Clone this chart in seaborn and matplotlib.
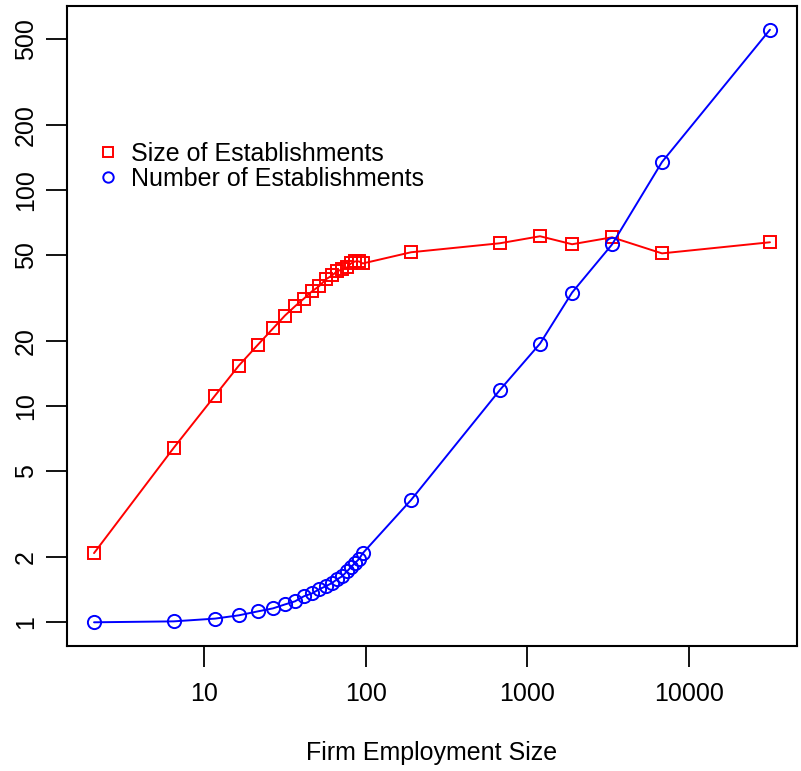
import numpy as np
import pandas as pd
import matplotlib
matplotlib.use("Agg")
import matplotlib.pyplot as plt
import seaborn as sns
from matplotlib.lines import Line2D
from matplotlib.ticker import FixedLocator, FixedFormatter, NullLocator

# ---- data ----
firm_size = [2.09, 6.5, 11.7, 16.4, 21.6, 26.7, 31.7, 36.5, 41.5, 46.5, 51.4,
             56.8, 61.9, 66.4, 71.3, 76.6, 81.0, 85.8, 90.8, 96.0,
             190.6, 676, 1197, 1889, 3337, 6793, 31600]
size_of_est = [2.09, 6.42, 11.2, 15.4, 19.3, 22.9, 26.3, 29.0, 31.5, 34.0, 35.9,
               38.7, 40.3, 42.1, 43.0, 43.9, 45.8, 46.8, 46.8, 45.8,
               51.6, 56.8, 61.2, 56.2, 60.5, 51.0, 57.4]
num_of_est = [1.00, 1.01, 1.04, 1.077, 1.124, 1.16, 1.21, 1.25, 1.32, 1.36, 1.42,
              1.47, 1.52, 1.58, 1.63, 1.72, 1.80, 1.88, 1.96, 2.09,
              3.68, 11.9, 19.5, 33.6, 56.1, 135, 553]
series_names = ["Size of Establishments", "Number of Establishments"]
x_ticks = [10, 100, 1000, 10000]
y_ticks = [1, 2, 5, 10, 20, 50, 100, 200, 500]
x_label = "Firm Employment Size"

df = pd.DataFrame({
    "x": firm_size * 2,
    "y": size_of_est + num_of_est,
    "series": [series_names[0]] * len(firm_size) + [series_names[1]] * len(firm_size),
})

sns.set_theme(style="white")
plt.rcParams["font.family"] = ["Liberation Sans", "DejaVu Sans"]
plt.rcParams["text.color"] = "black"

fig = plt.figure(figsize=(8.01, 7.71), dpi=100)
ax = fig.add_axes([67 / 801, 125 / 771, 730 / 801, 640 / 771])

colors = {series_names[0]: "#FF0000", series_names[1]: "#0000FF"}
markers = {series_names[0]: "s", series_names[1]: "o"}
msize = {series_names[0]: 8.0, series_names[1]: 9.5}

for name in series_names:
    sub = df[df["series"] == name]
    sns.lineplot(data=sub, x="x", y="y", ax=ax, color=colors[name], sort=False,
                 estimator=None, linewidth=1.4, marker=markers[name],
                 markersize=msize[name], markerfacecolor="none",
                 markeredgecolor=colors[name], markeredgewidth=1.4, legend=False)

ax.set_xscale("log")
ax.set_yscale("log")
lx = np.log10(firm_size)
rx = lx.max() - lx.min()
ax.set_xlim(10 ** (lx.min() - 0.04 * rx), 10 ** (lx.max() + 0.04 * rx))
ly = np.log10(size_of_est + num_of_est)
ry = ly.max() - ly.min()
ax.set_ylim(10 ** (ly.min() - 0.04 * ry), 10 ** (ly.max() + 0.04 * ry))

ax.xaxis.set_major_locator(FixedLocator(x_ticks))
ax.xaxis.set_major_formatter(FixedFormatter([str(v) for v in x_ticks]))
ax.xaxis.set_minor_locator(NullLocator())
ax.yaxis.set_major_locator(FixedLocator(y_ticks))
ax.yaxis.set_major_formatter(FixedFormatter([str(v) for v in y_ticks]))
ax.yaxis.set_minor_locator(NullLocator())

ax.tick_params(axis="both", which="major", direction="out", length=15, width=1.3,
               color="black", labelsize=18, labelcolor="black",
               bottom=True, left=True)
ax.tick_params(axis="x", pad=11)
ax.tick_params(axis="y", pad=6)
for lab in ax.get_yticklabels():
    lab.set_rotation(90)
    lab.set_va("center")

for sp in ax.spines.values():
    sp.set_color("black")
    sp.set_linewidth(1.5)

ax.set_xlabel(x_label, fontsize=18, color="black", labelpad=25)
ax.set_ylabel("")

handles = [Line2D([], [], linestyle="none", marker=markers[n], markersize=7.5,
                  markerfacecolor="none", markeredgecolor=colors[n], markeredgewidth=1.4)
           for n in series_names]
leg = ax.legend(handles, series_names, loc="upper left", bbox_to_anchor=(0.043, 0.788),
                frameon=False, fontsize=18, handlelength=0.8, handletextpad=0.5,
                labelspacing=0.05, borderaxespad=0, borderpad=0, labelcolor="black")

fig.savefig("out.png", dpi=100)
